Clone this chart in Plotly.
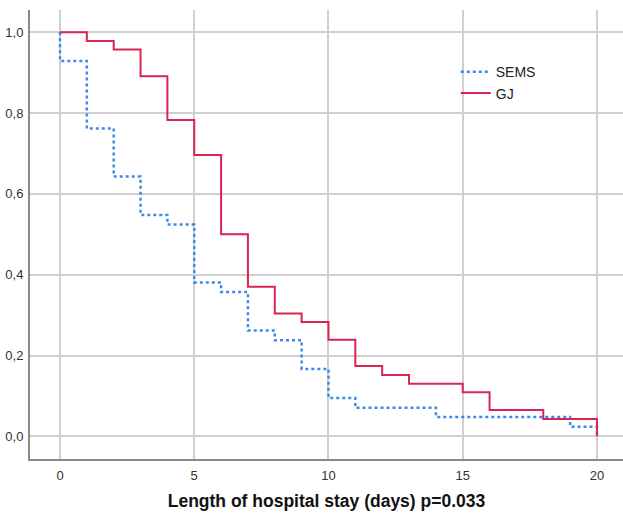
import plotly.graph_objects as go

# Kaplan-Meier step data
sems_days = [0, 0, 1, 2, 3, 4, 5, 6, 7, 8, 9, 10, 11, 14, 19, 20]
sems_surv = [1.0, 0.929, 0.762, 0.643, 0.548, 0.524, 0.381, 0.357, 0.262, 0.238, 0.167, 0.095, 0.071, 0.048, 0.024, 0.0]

gj_days = [0, 1, 2, 3, 4, 5, 6, 7, 8, 9, 10, 11, 12, 13, 15, 16, 18, 20]
gj_surv = [1.0, 0.978, 0.957, 0.891, 0.783, 0.696, 0.5, 0.370, 0.304, 0.283, 0.239, 0.174, 0.152, 0.130, 0.109, 0.065, 0.043, 0.0]

x_ticks = [0, 5, 10, 15, 20]
y_ticks = [0.0, 0.2, 0.4, 0.6, 0.8, 1.0]
y_ticklabels = ["0,0", "0,2", "0,4", "0,6", "0,8", "1,0"]

x_title = "<b>Length of hospital stay (days) p=0.033</b>"

fig = go.Figure()
fig.add_trace(go.Scatter(
    x=sems_days, y=sems_surv, mode="lines", name="SEMS",
    line=dict(color="#3d8ae6", width=2.5, dash="dot", shape="hv"),
))
fig.add_trace(go.Scatter(
    x=gj_days, y=gj_surv, mode="lines", name="GJ",
    line=dict(color="#d9254f", width=2, shape="hv"),
))

fig.update_layout(
    width=623, height=518,
    margin=dict(l=30, r=0, t=10, b=59),
    paper_bgcolor="white", plot_bgcolor="white",
    font=dict(family="Liberation Sans, Arial, sans-serif", color="#222"),
    showlegend=True,
    legend=dict(
        x=0.718, y=0.897, xanchor="left", yanchor="top",
        bgcolor="rgba(0,0,0,0)", font=dict(size=14, color="#222"),
        tracegroupgap=0, itemwidth=30,
    ),
    xaxis=dict(
        range=[-1.117, 20.97], tickvals=x_ticks, ticktext=[str(v) for v in x_ticks],
        showgrid=True, gridcolor="#cfcfcf", gridwidth=1.5,
        showline=True, linecolor="#8a8a8a", linewidth=2,
        zeroline=False, ticks="", tickfont=dict(size=13, color="#333"),
        automargin=False, ticklabelstandoff=3,
        title=dict(text=x_title, font=dict(size=17.5, color="#111"), standoff=13),
    ),
    yaxis=dict(
        range=[-0.056, 1.055], tickvals=y_ticks, ticktext=y_ticklabels,
        showgrid=True, gridcolor="#cfcfcf", gridwidth=1.5,
        showline=True, linecolor="#8a8a8a", linewidth=2,
        zeroline=False, ticks="", tickfont=dict(size=13, color="#333"),
        automargin=False, ticklabelstandoff=2,
    ),
)

fig.write_html("out.html", config={"displayModeBar": False},
               post_script="document.body.style.margin='0';")
